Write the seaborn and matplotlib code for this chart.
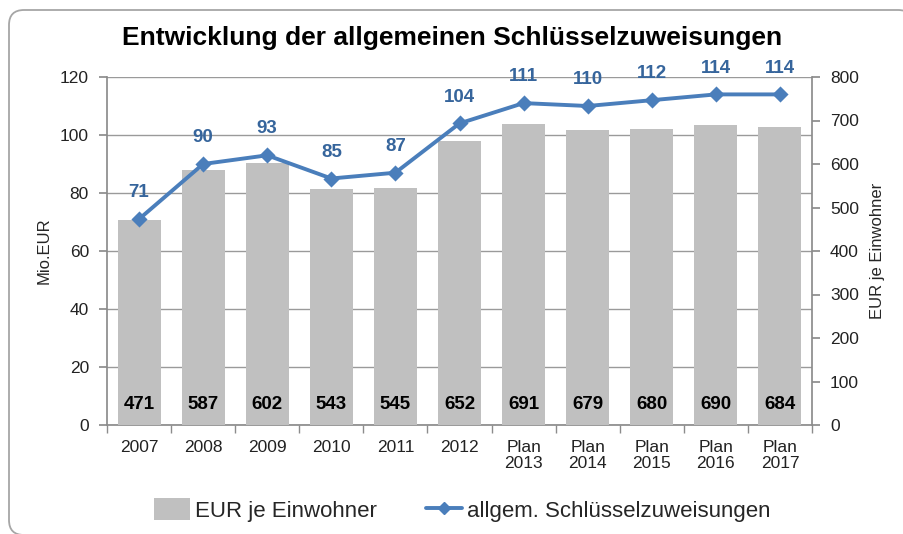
import matplotlib
matplotlib.use("Agg")
import matplotlib.pyplot as plt
from matplotlib.patches import Patch, PathPatch
from matplotlib.path import Path
from matplotlib.lines import Line2D
import seaborn as sns
import pandas as pd
import numpy as np

categories = ["2007", "2008", "2009", "2010", "2011", "2012",
              "Plan\n2013", "Plan\n2014", "Plan\n2015", "Plan\n2016", "Plan\n2017"]
eur_je_einwohner = [471, 587, 602, 543, 545, 652, 691, 679, 680, 690, 684]
schluesselzuweisungen = [71, 90, 93, 85, 87, 104, 111, 110, 112, 114, 114]
left_ticks = [0, 20, 40, 60, 80, 100, 120]
right_ticks = [0, 100, 200, 300, 400, 500, 600, 700, 800]

sns.set_theme(style="white")
plt.rcParams['font.family'] = ['Liberation Sans', 'DejaVu Sans']

df = pd.DataFrame({"cat": categories, "eur": eur_je_einwohner, "mio": schluesselzuweisungen})

BAR = "#C0C0C0"
LINE = "#4A7EBB"
LABEL = "#36659C"
AX = "#8C8C8C"

fig = plt.figure(figsize=(9.04, 5.34), dpi=100)
fig.patch.set_facecolor("white")

# frame (open rounded outline in pixel coords; y from bottom)
L, R, T, B, r = 9, 913, 524, -1, 15
verts = [(R, T - 40), (R, T - r), (R, T), (R - r, T),
         (L + r, T), (L, T), (L, T - r),
         (L, B + r), (L, B), (L + r, B)]
codes = [Path.MOVETO, Path.LINETO, Path.CURVE3, Path.CURVE3,
         Path.LINETO, Path.CURVE3, Path.CURVE3,
         Path.LINETO, Path.CURVE3, Path.CURVE3]
frame = PathPatch(Path(verts, codes), transform=None, fill=False,
                  edgecolor="#A6A6A6", linewidth=1.3)
fig.patches.append(frame)

rect = [107/904, 1-425/534, (812-107)/904, (425-77)/534]
ax = fig.add_axes(rect)          # left axis + grid
ax2 = ax.twinx()                 # bars (right axis)
ax3 = ax.twinx()                 # line (left scale)

ax.set_zorder(1); ax2.set_zorder(2); ax3.set_zorder(3)
ax2.patch.set_visible(False); ax3.patch.set_visible(False)

# grid on ax
ax.set_ylim(0, 120)
ax.set_yticks(left_ticks)
ax.yaxis.grid(True, color="#9A9A9A", linewidth=1)
ax.set_xlim(-0.5, 10.5)

# bars
sns.barplot(data=df, x="cat", y="eur", ax=ax2, color=BAR, width=0.67,
            saturation=1, edgecolor="none")
ax2.set_ylim(0, 800)
ax2.set_yticks(right_ticks)
ax2.set_xlim(-0.5, 10.5)
for i, v in enumerate(eur_je_einwohner):
    ax2.annotate(f"{v}", xy=(i, 0), xytext=(0, 14.5), textcoords="offset points",
                 ha="center", va="center", fontsize=13.5, fontweight="bold", color="black")

# line
sns.pointplot(data=df, x="cat", y="mio", ax=ax3, color=LINE, markers="D",
              markersize=6, linewidth=2.8)
ax3.set_ylim(0, 120)
ax3.set_xlim(-0.5, 10.5)
for i, v in enumerate(schluesselzuweisungen):
    ax3.annotate(f"{v}", xy=(i, v), xytext=(0, 19), textcoords="offset points",
                 ha="center", va="center", fontsize=13.5, fontweight="bold", color=LABEL)

# axis styling
for a in (ax, ax2, ax3):
    for s in a.spines.values():
        s.set_visible(False)
ax.spines["left"].set_visible(True)
ax.spines["left"].set_color(AX)
ax.spines["bottom"].set_visible(True)
ax.spines["bottom"].set_color(AX)
ax2.spines["right"].set_visible(True)
ax2.spines["right"].set_color(AX)

ax.tick_params(axis="y", left=True, length=6, color=AX, labelsize=12.5, pad=7, labelcolor="#222222")
ax2.tick_params(axis="y", right=True, length=6, color=AX, labelsize=12.5, pad=7, labelcolor="#222222")
ax3.set_yticks([]); ax3.set_ylabel("")
ax3.set_xticks([]); ax3.set_xlabel("")
ax2.set_xticks([]); ax2.set_xlabel("")
ax2.set_ylabel("")

ax.set_xticks(range(len(categories)))
ax.set_xticklabels(categories, fontsize=12.5, color="#222222", linespacing=1.1)
ax.set_xticks(np.arange(-0.5, len(categories), 1.0), minor=True)
ax.tick_params(axis="x", which="major", length=0, pad=11)
ax.tick_params(axis="x", which="minor", bottom=True, length=6, color=AX)

ax.set_ylabel("Mio.EUR", fontsize=12, labelpad=6)
ax2.set_ylabel("EUR je Einwohner", fontsize=12, labelpad=8, rotation=90)

fig.text(0.5, 1-38/534, "Entwicklung der allgemeinen Schlüsselzuweisungen",
         ha="center", va="center", fontsize=19, fontweight="bold", color="black")

handles = [Patch(facecolor=BAR, edgecolor="none"),
           Line2D([0], [0], color=LINE, linewidth=2.8, marker="D", markersize=6)]
fig.legend(handles, ["EUR je Einwohner", "allgem. Schlüsselzuweisungen"],
           loc="center", bbox_to_anchor=(0.511, 1-510/534), ncol=2, frameon=False,
           fontsize=16, handlelength=1.65, handleheight=1.1, columnspacing=2.2,
           handletextpad=0.2)

fig.savefig("out.png", dpi=100, facecolor="white")
